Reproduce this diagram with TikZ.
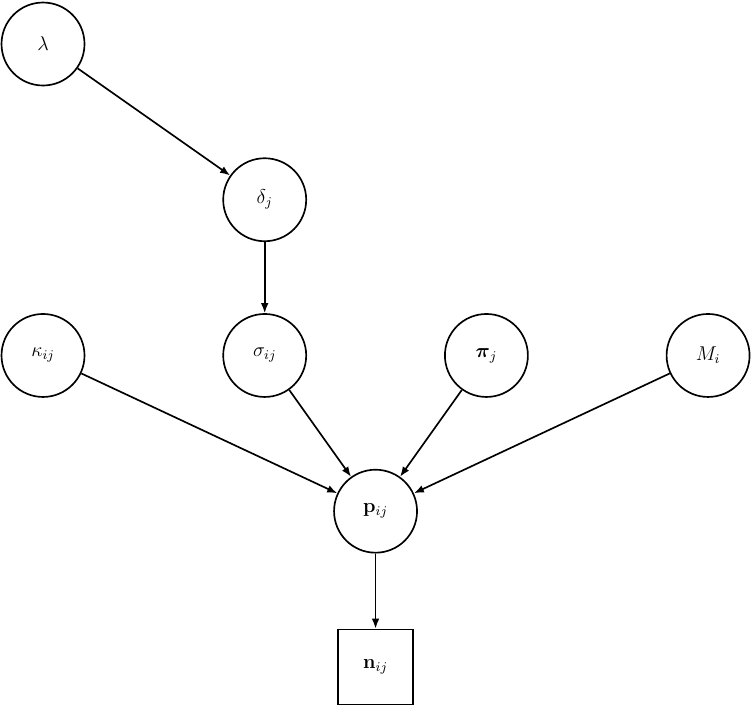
\documentclass[tikz,border=0pt]{standalone}
\usepackage{amsmath,amssymb}
\usepackage{tikz}
\usetikzlibrary{arrows.meta,positioning}
\tikzset{
  latent/.style={draw, circle, line width=1pt, minimum size=1.75cm, inner sep=0pt, align=center, font=\large},
  obs/.style={draw, rectangle, line width=1pt, minimum size=1.58cm, inner sep=0pt, align=center, font=\large},
  arr/.style={-{Latex[length=6pt,width=4.6pt]}, line width=1pt}
}

\begin{document}
\begin{tikzpicture}[x=4.675cm, y=3.284cm]
\useasboundingbox (-0.907cm,0.928cm) rectangle (14.951cm,-13.981cm);
\node[latent] (lambda) at (0,0) {$\lambda$};
\node[latent] (delta) at (1,-1) {$\delta_j$};
\node[latent] (kappa) at (0,-2) {$\kappa_{ij}$};
\node[latent] (sigma) at (1,-2) {$\sigma_{ij}$};
\node[latent] (pi) at (2,-2) {$\boldsymbol{\pi}_j$};
\node[latent] (M) at (3,-2) {$M_i$};
\node[latent] (p) at (1.5,-3) {$\mathbf{p}_{ij}$};
\node[obs] (n) at (1.5,-4) {$\mathbf{n}_{ij}$};
\draw[arr] (lambda) -- (delta);
\draw[arr] (delta) -- (sigma);
\draw[arr] (kappa) -- (p);
\draw[arr] (sigma) -- (p);
\draw[arr] (pi) -- (p);
\draw[arr] (M) -- (p);
\draw[arr] (p) -- (n);
\end{tikzpicture}
\end{document}
